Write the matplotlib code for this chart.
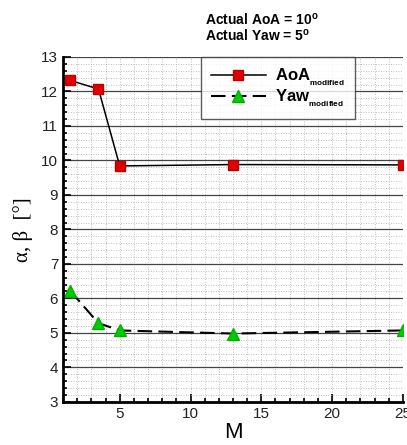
import numpy as np
import matplotlib
matplotlib.use("Agg")
import matplotlib.pyplot as plt
from matplotlib.ticker import MultipleLocator

plt.rcParams["font.family"] = ["Liberation Sans", "DejaVu Sans"]
plt.rcParams["mathtext.fontset"] = "custom"
plt.rcParams["mathtext.bf"] = "Liberation Sans:bold"
plt.rcParams["mathtext.rm"] = "Liberation Sans"

# Mach number and corrected angles
mach = [1.5, 3.5, 5, 13, 25]
aoa_modified = [12.32, 12.07, 9.84, 9.88, 9.87]
yaw_modified = [6.22, 5.28, 5.07, 4.98, 5.07]

fig = plt.figure(figsize=(4.07, 4.45), dpi=100)
ax = fig.add_axes([0.155, 0.097, 0.835, 0.775])

ax.plot(mach, aoa_modified, color="black", lw=1.1, marker="s", ms=7.5,
        mfc="#dd0000", mec="#bb0000",
        label=r"$\mathbf{AoA}_{{}_{\mathbf{modified}}}$")
ax.plot(mach, yaw_modified, color="black", lw=1.5, ls=(0, (7, 3)),
        marker="^", ms=8, mfc="#00cc00", mec="#00b000",
        label=r"$\mathbf{Yaw}_{{}_{\mathbf{modified}}}$")

ax.set_xlim(1, 25)
ax.set_ylim(3, 13)
ax.xaxis.set_major_locator(MultipleLocator(5))
ax.xaxis.set_minor_locator(MultipleLocator(1))
ax.yaxis.set_major_locator(MultipleLocator(1))
ax.yaxis.set_minor_locator(MultipleLocator(0.2))

ax.grid(which="major", axis="y", color="#444444", lw=0.9)
ax.grid(which="minor", axis="y", color="#aaaaaa", lw=0.6, ls=(0, (1, 2)))
ax.grid(which="both", axis="x", color="#aaaaaa", lw=0.6, ls=(0, (1, 2)))
ax.set_axisbelow(True)

ax.tick_params(which="both", direction="in", top=False, right=False,
               labelsize=11, width=1.2, labelcolor="#222222")
ax.tick_params(which="major", length=6)
ax.tick_params(which="minor", length=3)
for side in ["top", "right"]:
    ax.spines[side].set_visible(False)
for side in ["left", "bottom"]:
    ax.spines[side].set_linewidth(2)

ax.set_xlabel("M", fontsize=16, labelpad=1)
ax.set_ylabel("α, β  [°]", fontsize=15, labelpad=6,
              family=["Liberation Serif", "DejaVu Serif"])

leg = ax.legend(loc="upper left", bbox_to_anchor=(0.405, 1.0), fontsize=12,
                frameon=True, fancybox=False, edgecolor="#333333",
                handlelength=3.3, handletextpad=0.55, borderpad=0.6,
                labelspacing=0.0, borderaxespad=0)
leg.get_frame().set_linewidth(1.0)

fig.text(0.503, 0.975, "Actual AoA = 10$^{\\mathregular{o}}$\nActual Yaw = 5$^{\\mathregular{o}}$",
         fontsize=10, fontweight="bold", ha="left", va="top", linespacing=1.05)

fig.savefig("out.png", dpi=100)
